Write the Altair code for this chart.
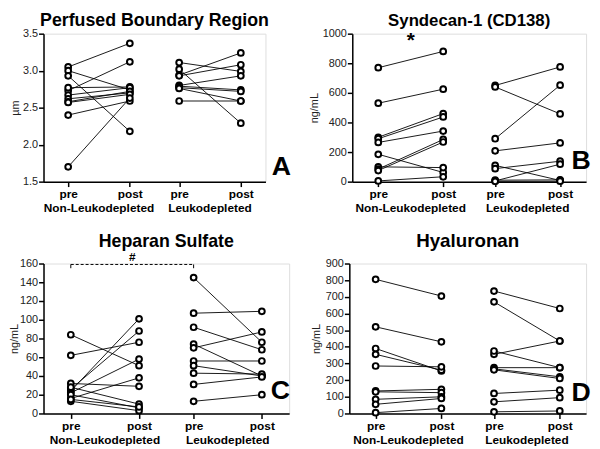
import altair as alt
import pandas as pd

FONT = "Liberation Sans"
GROUPS = ["Non-Leukodepleted", "Leukodepleted"]
XPOS = {
    ("Non-Leukodepleted", "pre"): 1.0,
    ("Non-Leukodepleted", "post"): 2.0,
    ("Leukodepleted", "pre"): 2.8,
    ("Leukodepleted", "post"): 3.8,
}
GROUP_CENTER = [1.5, 3.3]
X_TICKS = [1.0, 2.0, 2.8, 3.8]

# Panel A: Perfused Boundary Region (um)
a_nl_pre = [3.05, 3.00, 2.93, 2.73, 2.77, 2.67, 2.62, 2.58, 2.57, 2.40, 1.70]
a_nl_post = [3.37, 2.74, 2.18, 3.12, 2.78, 2.77, 2.70, 2.72, 2.68, 2.59, 2.63]
a_l_pre = [3.11, 3.02, 2.94, 2.93, 2.80, 2.79, 2.77, 2.76, 2.59]
a_l_post = [2.99, 2.29, 3.24, 3.08, 2.93, 2.74, 2.72, 2.59, 2.59]

# Panel B: Syndecan-1 (ng/mL)
b_nl_pre = [770, 530, 300, 290, 265, 185, 100, 85, 75, 5]
b_nl_post = [880, 625, 460, 437, 342, 62, 95, 285, 268, 33]
b_l_pre = [650, 640, 290, 208, 110, 88, 5, 10, 2]
b_l_post = [775, 458, 652, 262, 8, 138, 118, 12, 3]

# Panel C: Heparan Sulfate (ng/mL)
c_nl_pre = [84, 62, 24, 26, 22, 32, 16, 28, 20, 13, 15]
c_nl_post = [51, 76, 101, 88, 58, 29, 38, 10, 6, 3, 7]
c_l_pre = [145, 107, 92, 74, 70, 56, 51, 43, 31, 13]
c_l_post = [76, 109, 68, 40, 87, 56, 40, 42, 39, 20]

# Panel D: Hyaluronan (ng/mL)
d_nl_pre = [805, 520, 390, 355, 285, 135, 130, 85, 55, 5]
d_nl_post = [705, 430, 255, 260, 280, 145, 125, 100, 90, 30]
d_l_pre = [735, 670, 355, 375, 275, 268, 262, 120, 70, 10]
d_l_post = [630, 435, 435, 275, 275, 220, 210, 140, 95, 15]


def panel_df(nl_pre, nl_post, l_pre, l_post):
    rows = []
    for g, pre, post in ((GROUPS[0], nl_pre, nl_post), (GROUPS[1], l_pre, l_post)):
        for i, (p, q) in enumerate(zip(pre, post)):
            pid = f"{g}-{i}"
            rows.append(dict(group=g, time="pre", pid=pid, value=p, x=XPOS[(g, "pre")]))
            rows.append(dict(group=g, time="post", pid=pid, value=q, x=XPOS[(g, "post")]))
    return pd.DataFrame(rows)


def panel(df, title, ytitle, ydom, yvals, yfmt, width, height, letter, lx, ly,
          tpad, ty, tsize=18, extras=()):
    xscale = alt.Scale(domain=[0.6, 4.2], nice=False, zero=False)
    yscale = alt.Scale(domain=ydom, nice=False, zero=False)
    xaxis = alt.Axis(
        values=X_TICKS, tickCount=10,
        labelExpr="(datum.value < 1.5 || (datum.value > 2.5 && datum.value < 3.3)) ? 'pre' : 'post'",
        title=None, grid=False, labelFont=FONT, labelFontSize=12, labelFontWeight="bold",
        labelColor="black", domainColor="black", tickColor="black", domainWidth=1.5,
        tickWidth=1.5, tickSize=5, labelPadding=2, labelFlush=False, labelOverlap=False,
    )
    yaxis = alt.Axis(
        values=yvals, tickCount=len(yvals) + 5, format=yfmt, title=ytitle, grid=False,
        labelFont=FONT, labelFontSize=11,
        labelColor="#222222", domainColor="black", tickColor="black", domainWidth=1.5,
        tickWidth=1.5, tickSize=5, labelPadding=1, labelFlush=False, labelOverlap=False,
        titleFont=FONT, titleFontSize=11, titleFontWeight="normal", titleColor="#222222",
        titlePadding=tpad,
    )
    base = alt.Chart(df)
    lines = base.mark_line(color="black", strokeWidth=0.9).encode(
        x=alt.X("x:Q", scale=xscale, axis=xaxis),
        y=alt.Y("value:Q", scale=yscale, axis=yaxis),
        detail="pid:N",
        order="x:Q",
    )
    pts = base.mark_point(shape="circle", filled=False, fill="white", stroke="black",
                          strokeWidth=2, size=34, opacity=1).encode(x="x:Q", y="value:Q")
    grp = alt.Chart(pd.DataFrame({"label": GROUPS, "x": GROUP_CENTER})).mark_text(
        font=FONT, fontSize=12, fontWeight="bold", baseline="middle", color="black"
    ).encode(x="x:Q", y=alt.value(height + 27), text="label:N")
    let = alt.Chart(pd.DataFrame({"t": [letter]})).mark_text(
        font=FONT, fontSize=27, fontWeight="bold", baseline="alphabetic", align="center", color="black"
    ).encode(x=alt.value(width + lx), y=alt.value(height + ly), text="t:N")
    ttl = alt.Chart(pd.DataFrame({"t": [title]})).mark_text(
        font=FONT, fontSize=tsize, fontWeight="bold", baseline="alphabetic", align="center", color="black"
    ).encode(x=alt.value(width / 2), y=alt.value(ty), text="t:N")
    layers = [lines, pts, grp, let, ttl] + list(extras)
    return alt.layer(*layers).properties(width=width, height=height)


dfA = panel_df(a_nl_pre, a_nl_post, a_l_pre, a_l_post)
dfB = panel_df(b_nl_pre, b_nl_post, b_l_pre, b_l_post)
dfC = panel_df(c_nl_pre, c_nl_post, c_l_pre, c_l_post)
dfD = panel_df(d_nl_pre, d_nl_post, d_l_pre, d_l_post)

star = alt.Chart(pd.DataFrame({"t": ["*"], "x": [1.5]})).mark_text(
    font=FONT, fontSize=21, fontWeight="bold", baseline="middle", color="black"
).encode(x="x:Q", y=alt.value(8), text="t:N")

bracket_h = alt.Chart(pd.DataFrame({"x": [1.0], "x2": [2.8], "y": [159]})).mark_rule(
    color="black", strokeWidth=1, strokeDash=[3, 2]
).encode(x="x:Q", x2="x2:Q", y="y:Q")
bracket_v = alt.Chart(pd.DataFrame({"x": [1.0, 2.8], "y": [159, 159], "y2": [155, 155]})).mark_rule(
    color="black", strokeWidth=1
).encode(x="x:Q", y="y:Q", y2="y2:Q")
hash_t = alt.Chart(pd.DataFrame({"t": ["#"], "x": [1.9]})).mark_text(
    font=FONT, fontSize=12, fontWeight="bold", baseline="middle", color="black"
).encode(x="x:Q", y=alt.value(-7), text="t:N")

A = panel(dfA, "Perfused Boundary Region", "µm", [1.5, 3.5], [1.5, 2.0, 2.5, 3.0, 3.5], ".1f",
          225, 150, "A", 16, -7, tpad=2, ty=-8)
B = panel(dfB, "Syndecan-1 (CD138)", "ng/mL", [0, 1000], list(range(0, 1001, 200)), "d",
          237, 150, "B", -5, -13, tpad=3, ty=-8, tsize=17, extras=[star])
C = panel(dfC, "Heparan Sulfate", "ng/mL", [0, 160], list(range(0, 161, 20)), "d",
          249, 152, "C", -9, -15, tpad=0, ty=-17, extras=[bracket_h, bracket_v, hash_t])
D = panel(dfD, "Hyaluronan", "ng/mL", [0, 900], list(range(0, 901, 100)), "d",
          240, 152, "D", -5, -13, tpad=4, ty=-17, tsize=19)

# With flush bounds, spacing is measured between plot areas (nested rows count as zero height).
row1 = alt.hconcat(A, B, spacing=88, bounds="flush")
row2 = alt.hconcat(C, D, spacing=61, bounds="flush")
chart = alt.vconcat(row1, row2, spacing=233, bounds="flush").properties(padding=0).configure_view(
    stroke=None
).configure(background="white")

chart.save("out.html", embed_options={"renderer": "svg", "actions": False})
